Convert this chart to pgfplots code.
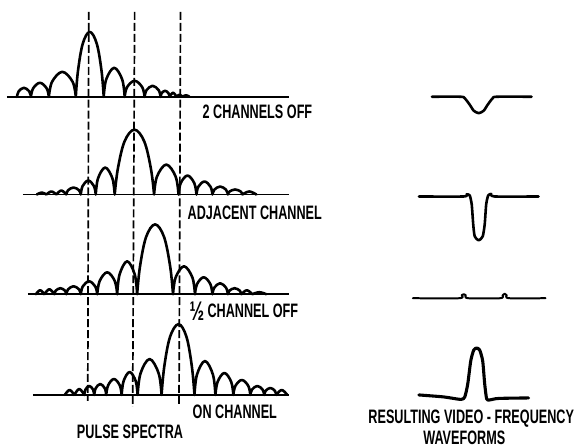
\documentclass[border=0pt]{standalone}
\usepackage{fontspec}
\setmainfont{Liberation Sans}[FakeStretch=0.65]
\usepackage{pgfplots}
\pgfplotsset{compat=1.18}
\tikzset{
  lobe/.style={black, line width=2.6pt, smooth, tension=0.6, line join=round, line cap=round},
  baseln/.style={black, line width=1.9pt},
  dashref/.style={black, line width=1.7pt, dash pattern=on 8pt off 3pt},
  lab/.style={font=\fontsize{19.5}{19.5}\selectfont\bfseries, inner sep=0pt}}
\begin{document}
\begin{tikzpicture}
\begin{axis}[x=1pt, y=1pt, xmin=0, xmax=574, ymin=0, ymax=448, y dir=reverse,
  hide axis, clip=false, scale only axis, unbounded coords=jump]
\addplot[draw=none] coordinates {(0,0) (574,448)};
% ---------- baselines ----------
\addplot[baseln] coordinates {(7,97) (290,97)};
\addplot[baseln] coordinates {(23,195) (290,195)};
\addplot[baseln] coordinates {(28,295) (290,295)};
\addplot[baseln] coordinates {(33,396) (290,396)};
% ---------- panel 1: 2 channels off ----------
\addplot[lobe] coordinates {
(17,97)(18.7,91.6)(24,88)(29.3,91.6)(31,97) (nan,nan)
(31,97)(33.2,88.6)(40,83)(46.8,88.6)(49,97) (nan,nan)
(49,97)(52.2,82)(62.5,72)(72.8,82)(76,97) (nan,nan)
(76,97)(78.2,71)(83,43.7)(90,32)(97,43.7)(101.8,71)(104,97) (nan,nan)
(104,97)(106.5,79.6)(114.5,68)(122.5,79.6)(125,97) (nan,nan)
(125,97)(127.4,87.4)(135,81)(142.6,87.4)(145,97) (nan,nan)
(145,97)(146.9,90.4)(153,86)(159.1,90.4)(161,97) (nan,nan)
(161,97)(162.1,93.4)(165.5,91)(168.9,93.4)(170,97) (nan,nan)
(170,97)(173.5,93)(177,97) (nan,nan)
(177,97)(180,95)(183,97) (nan,nan)
(183,97)(186.5,95.5)(190,97)
};
% ---------- panel 2: adjacent channel ----------
\addplot[lobe] coordinates {
(37,195)(41.75,193)(46.5,195) (nan,nan)
(46.5,195)(51.5,192)(56.5,195) (nan,nan)
(56.5,195)(61.5,191)(66.5,195) (nan,nan)
(66.5,195)(68.2,190.8)(73.75,188)(79.3,190.8)(81,195) (nan,nan)
(81,195)(82.8,186.6)(88.5,181)(94.2,186.6)(96,195) (nan,nan)
(96,195)(98.3,178.8)(105.5,168)(112.7,178.8)(115,195) (nan,nan)
(115,195)(118.2,169)(124.9,141.7)(134.75,130)(144.6,141.7)(151.3,169)(154.5,195) (nan,nan)
(154.5,195)(157.4,177)(166.75,165)(176.1,177)(179,195) (nan,nan)
(179,195)(181.2,183.6)(188,176)(194.8,183.6)(197,195) (nan,nan)
(197,195)(198.9,187.2)(205,182)(211.1,187.2)(213,195) (nan,nan)
(213,195)(214.9,190.2)(220.75,187)(226.6,190.2)(228.5,195) (nan,nan)
(228.5,195)(230.2,192)(235.75,190)(241.3,192)(243,195) (nan,nan)
(243,195)(250,192)(257,195)
};
% ---------- panel 3: half channel off ----------
\addplot[lobe] coordinates {
(36,295)(40.25,291)(44.5,295) (nan,nan)
(44.5,295)(49.5,290)(54.5,295) (nan,nan)
(54.5,295)(55.9,291.4)(60.5,289)(65.1,291.4)(66.5,295) (nan,nan)
(66.5,295)(68.2,290.2)(73.75,287)(79.3,290.2)(81,295) (nan,nan)
(81,295)(83,287.2)(89.25,282)(95.5,287.2)(97.5,295) (nan,nan)
(97.5,295)(99.9,281.8)(107.5,273)(115.1,281.8)(117.5,295) (nan,nan)
(117.5,295)(119.9,275.2)(127.5,262)(135.1,275.2)(137.5,295) (nan,nan)
(137.5,295)(140.4,267)(146.5,237.6)(155.5,225)(164.5,237.6)(170.6,267)(173.5,295) (nan,nan)
(173.5,295)(176.1,278.2)(184.5,267)(192.9,278.2)(195.5,295) (nan,nan)
(195.5,295)(197.6,284.8)(204.25,278)(210.9,284.8)(213,295) (nan,nan)
(213,295)(214.9,288.4)(220.75,284)(226.6,288.4)(228.5,295) (nan,nan)
(228.5,295)(230.1,291.4)(235.25,289)(240.4,291.4)(242,295) (nan,nan)
(242,295)(247.5,291)(253,295) (nan,nan)
(253,295)(260,293)(267,295)
};
% ---------- panel 4: on channel ----------
\addplot[lobe] coordinates {
(65,396)(69.75,391)(74.5,396) (nan,nan)
(74.5,396)(79.5,390)(84.5,396) (nan,nan)
(84.5,396)(85.7,390.6)(89.5,387)(93.3,390.6)(94.5,396) (nan,nan)
(94.5,396)(95.9,389.4)(100.5,385)(105.1,389.4)(106.5,396) (nan,nan)
(106.5,396)(108.4,386.4)(114.25,380)(120.1,386.4)(122,396) (nan,nan)
(122,396)(123.9,382.2)(130,373)(136.1,382.2)(138,396) (nan,nan)
(138,396)(140.9,374.4)(150,360)(159.1,374.4)(162,396) (nan,nan)
(162,396)(164.7,367.6)(170.5,337.8)(179,325)(187,337.8)(192.4,367.6)(195,396) (nan,nan)
(195,396)(197.5,375.6)(205.5,362)(213.5,375.6)(216,396) (nan,nan)
(216,396)(218.2,382.8)(225,374)(231.8,382.8)(234,396) (nan,nan)
(234,396)(236,387)(242.5,381)(249,387)(251,396) (nan,nan)
(251,396)(252.7,390.6)(258,387)(263.3,390.6)(265,396) (nan,nan)
(265,396)(266.4,391.8)(271,389)(275.6,391.8)(277,396) (nan,nan)
(277,396)(282.5,391)(288,396)
};
% ---------- dashed reference lines ----------
\addplot[dashref] coordinates {(89,12) (88,402)};
\addplot[dashref] coordinates {(135,12) (133,408)};
\addplot[dashref] coordinates {(181,12) (179.5,407)};
% ---------- video-frequency waveforms ----------
\addplot[lobe, tension=0.4] coordinates {(433,97)(462,97)(466,98.5)(471,105)(475,111)(480,113.5)(485,111)(489,105)(494,98.5)(498,97)(533,97)};
\addplot[lobe, tension=0.4] coordinates {(420,197)(465,197)(468,194.8)(471,196)(473,205)(474.5,225)(476,237)(480,241)(484,237)(486,225)(487.5,205)(489.5,196)(492.5,194.5)(496,197)(540,197)};
\addplot[lobe, line width=2pt, tension=0.4] coordinates {(414,299)(461,299)(463,296)(465,295)(467,296)(469,299)(502,299)(504,296)(506,294.5)(508,296)(510,299)(547,299)};
\addplot[lobe, line width=3.1pt, tension=0.4] coordinates {(420,396)(445,398)(462,400.5)(466,398)(469,385)(472,362)(475,351)(478,349)(481,351)(484,362)(486,385)(488,400)(491,401)(500,399.5)(530,399)};
% ---------- labels ----------
\node[lab, anchor=west] at (axis cs:203,112) {2 CHANNELS OFF};
\node[lab, anchor=west] at (axis cs:188,213) {ADJACENT CHANNEL};
\node[lab, anchor=west] at (axis cs:190,312) {\raisebox{-3pt}{\fontsize{27}{27}\selectfont ½}\,CHANNEL OFF};
\node[lab, anchor=west] at (axis cs:193,413) {ON CHANNEL};
\node[lab, anchor=west] at (axis cs:77,433) {PULSE SPECTRA};
\node[lab] at (axis cs:472.5,420) {RESULTING VIDEO - FREQUENCY};
\node[lab] at (axis cs:465.5,438.5) {WAVEFORMS};
\end{axis}
\end{tikzpicture}
\end{document}
